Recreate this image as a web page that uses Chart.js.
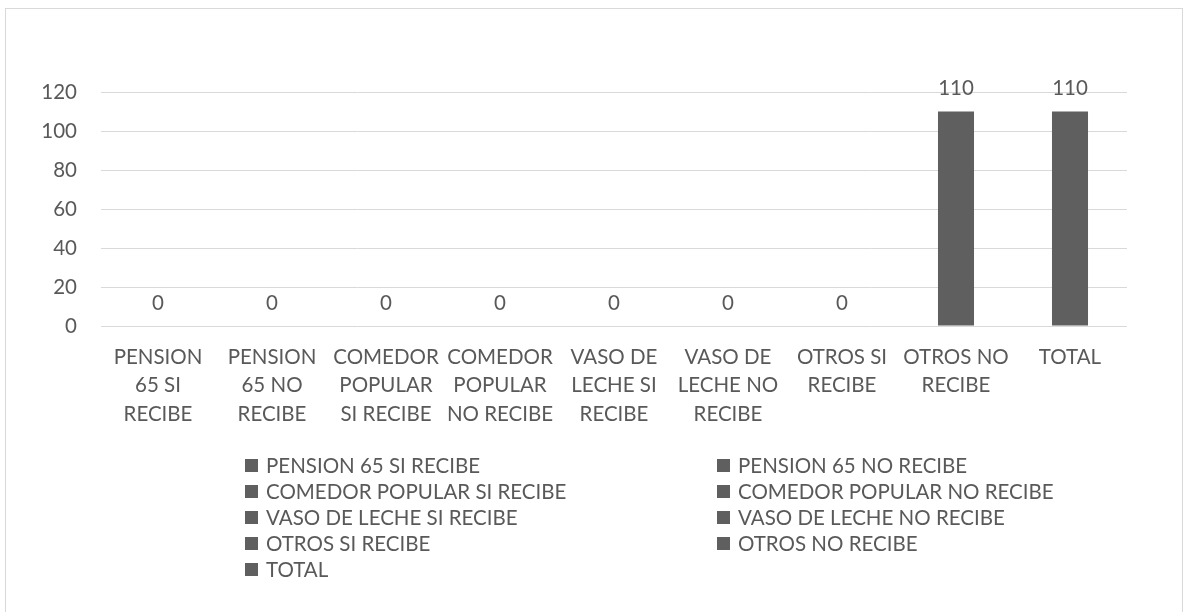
<!DOCTYPE html>
<html>
<head>
<meta charset="utf-8">
<script src="https://cdn.jsdelivr.net/npm/chart.js@4.4.0/dist/chart.umd.min.js"></script>
<style>
  html, body { margin: 0; padding: 0; background: #fff; }
  #wrap { width: 1184px; height: 612px; position: relative; }
</style>
</head>
<body>
<div id="wrap"><canvas id="myChart" width="1184" height="612"></canvas></div>
<script>
// Datos
const categorias = ['PENSION 65 SI RECIBE', 'PENSION 65 NO RECIBE', 'COMEDOR POPULAR SI RECIBE', 'COMEDOR POPULAR NO RECIBE',
  'VASO DE LECHE SI RECIBE', 'VASO DE LECHE NO RECIBE', 'OTROS SI RECIBE', 'OTROS NO RECIBE', 'TOTAL'];
const etiquetas = [
  ['PENSION', '65 SI', 'RECIBE'],
  ['PENSION', '65 NO', 'RECIBE'],
  ['COMEDOR', 'POPULAR', 'SI RECIBE'],
  ['COMEDOR', 'POPULAR', 'NO RECIBE'],
  ['VASO DE', 'LECHE SI', 'RECIBE'],
  ['VASO DE', 'LECHE NO', 'RECIBE'],
  ['OTROS SI', 'RECIBE'],
  ['OTROS NO', 'RECIBE'],
  ['TOTAL']
];
const valores = [0, 0, 0, 0, 0, 0, 0, 110, 110];
const yTicks = [0, 20, 40, 60, 80, 100, 120];

const gris = '#5f5f5f';
const texto = '#595959';
const fuente = 'Lato, "Open Sans", sans-serif';
const tam = 20.5;

Chart.defaults.font.family = fuente;
Chart.defaults.color = texto;

// Borde del gráfico
const borde = {
  id: 'borde',
  beforeDraw(chart) {
    const c = chart.ctx;
    c.save();
    c.strokeStyle = '#d9d9d9';
    c.lineWidth = 1;
    c.strokeRect(5.5, 8.5, 1177, 610);
    c.restore();
  }
};

// Etiquetas de datos
const etiquetasDatos = {
  id: 'etiquetasDatos',
  afterDatasetsDraw(chart) {
    const c = chart.ctx;
    const meta = chart.getDatasetMeta(0);
    c.save();
    c.font = tam + 'px ' + fuente;
    c.fillStyle = texto;
    c.textAlign = 'center';
    c.textBaseline = 'middle';
    meta.data.forEach((bar, i) => {
      c.fillText(valores[i], bar.x, bar.y - 23);
    });
    c.restore();
  }
};

// Leyenda en dos columnas
const leyenda = {
  id: 'leyenda',
  afterDraw(chart) {
    const c = chart.ctx;
    c.save();
    c.font = tam + 'px ' + fuente;
    c.textBaseline = 'middle';
    categorias.forEach((nombre, i) => {
      const col = i % 2;
      const fila = Math.floor(i / 2);
      const x = col === 0 ? 245 : 717;
      const y = 465 + fila * 26;
      c.fillStyle = gris;
      c.fillRect(x, y - 6, 13, 13);
      c.fillStyle = texto;
      c.fillText(nombre, x + 21, y + 1);
    });
    c.restore();
  }
};

const ctx = document.getElementById('myChart').getContext('2d');
const myChart = new Chart(ctx, {
  type: 'bar',
  data: {
    labels: etiquetas,
    datasets: [{
      label: 'Serie',
      data: valores,
      backgroundColor: gris,
      categoryPercentage: 1,
      barPercentage: 0.316
    }]
  },
  options: {
    responsive: false,
    animation: false,
    layout: { padding: { top: 92, left: 20, right: 57, bottom: 0 } },
    plugins: { legend: { display: false }, tooltip: { enabled: false } },
    scales: {
      x: {
        grid: { display: false, drawTicks: false },
        border: { display: false },
        ticks: { font: { size: tam, lineHeight: 1.39 }, color: texto, padding: 17, maxRotation: 0, autoSkip: false },
        afterFit(scale) { scale.height = 286; }
      },
      y: {
        min: 0,
        max: 120,
        afterBuildTicks(scale) { scale.ticks = yTicks.map(v => ({ value: v })); },
        grid: { color: '#d9d9d9', drawTicks: false },
        border: { display: false },
        ticks: { font: { size: tam }, color: texto, padding: 24 },
        afterFit(scale) { scale.width = 81; }
      }
    }
  },
  plugins: [borde, etiquetasDatos, leyenda]
});
</script>
</body>
</html>
